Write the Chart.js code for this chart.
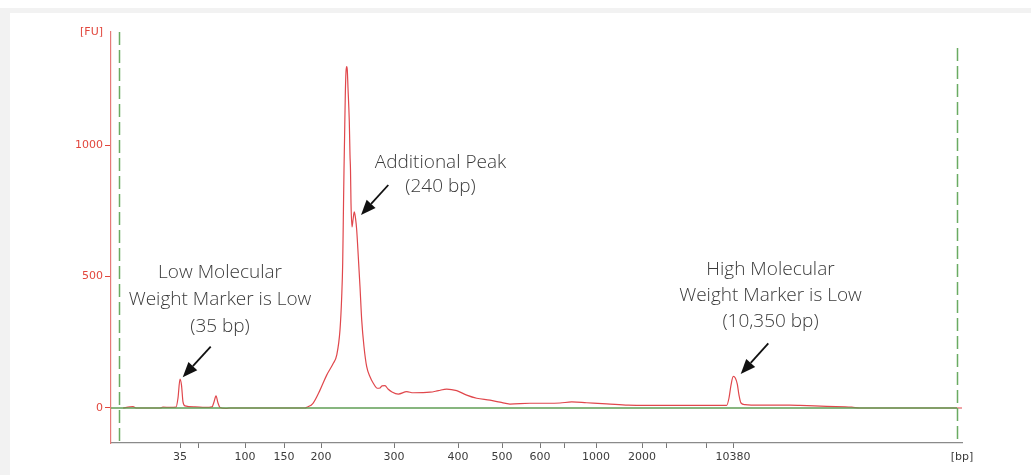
<!DOCTYPE html>
<html>
<head>
<meta charset="utf-8">
<script src="https://cdn.jsdelivr.net/npm/chart.js@4.4.0/dist/chart.umd.min.js"></script>
<style>
    html, body { margin: 0; padding: 0; background: #fff; }
    #frame { position: absolute; left: 0; top: 8px; width: 1031px; height: 467px; box-sizing: border-box;
             border-top: 5px solid #f2f2f2; border-left: 10px solid #f2f2f2; }
    #wrap { position: absolute; left: 0; top: 0; width: 1031px; height: 475px; }
</style>
</head>
<body>
<div id="frame"></div>
<div id="wrap"><canvas id="trace-chart"></canvas></div>
<script>
// migration time [s] and fluorescence [FU]
var times = [
    41.2, 41.9, 42.2, 42.5, 44.9, 45.2, 45.9, 46.5, 46.7, 46.9, 47.05, 47.2, 47.4, 48.4, 49.4,
    50.1, 50.3, 50.5, 50.7, 50.9, 51.5, 51.9, 59.4, 59.6, 60.2, 60.9, 61.57, 62.23, 62.57, 62.9,
    63.07, 63.17, 63.23, 63.3, 63.35, 63.43, 63.5, 63.57, 63.63, 63.7, 63.83, 63.9, 63.95, 64.0,
    64.1, 64.2, 64.33, 64.45, 64.57, 64.73, 64.9, 65.07, 65.3, 65.57, 65.9, 66.23, 66.63, 66.9,
    67.1, 67.4, 67.7, 68.1, 68.73, 69.57, 70.23, 71.9, 72.73, 73.57, 74.57, 75.57, 76.57, 77.9,
    78.9, 79.9, 81.9, 83.57, 84.9, 86.07, 87.57, 89.57, 91.73, 93.57, 96.9, 99.9, 101.57, 101.8,
    102.0, 102.23, 102.43, 102.63, 102.8, 103.0, 103.4, 104.9, 107.9, 108.9, 111.57, 114.07,
    114.9, 125.1
];
var fu = [
    0, 4, 5, 0, 0, 3, 2, 3, 38, 110, 87, 23, 8, 4, 2,
    4, 23, 46, 19, 2, -2, 0, 0, 3, 18, 68, 125, 170, 201, 297,
    423, 551, 715, 905, 1013, 1190, 1278, 1298, 1285, 1217, 1089, 962, 905, 779,
    689, 715, 746, 722, 677, 575, 461, 335, 233, 157, 119, 94, 75, 76,
    84, 85, 72, 61, 53, 62, 58, 60, 66, 72, 66, 49, 37, 30,
    22, 15, 18, 18, 19, 23, 20, 16, 11, 10, 10, 10, 10, 38,
    87, 120, 114, 91, 49, 19, 13, 11, 11, 10, 6, 3,
    0, 0
];

// ladder ticks: position in seconds and the size label shown under it
var xTickPos    = [46.9, 48.8, 53.4, 57.3, 61.0, 68.3, 74.7, 79.1, 82.9, 85.3, 88.5, 93.1, 95.5, 99.5, 102.2, 125.1];
var xTickLabels = ['35', '', '100', '150', '200', '300', '400', '500', '600', '', '1000', '2000', '', '', '10380', '[bp]'];
var yTickPos    = [0, 500, 1000, 1429.7];
var yTickLabels = ['0', '500', '1000', '[FU]'];

// lower / upper marker alignment lines
var markerLines = [{ t: 40.8, top: 1429.7 }, { t: 124.6, top: 1369 }];

// callouts: text lines (center, FU of each line) and arrow tail -> tip
var callouts = [
    { lines: ['Low Molecular', 'Weight Marker is Low', '(35 bp)'], t: 50.9, y: [513, 411, 308],
      from: [49.97, 233], to: [47.17, 117] },
    { lines: ['Additional Peak', '(240 bp)'], t: 72.95, y: [935, 840],
      from: [67.73, 848], to: [65.0, 734] },
    { lines: ['High Molecular', 'Weight Marker is Low', '(10,350 bp)'], t: 105.95, y: [525, 426, 327],
      from: [105.73, 246], to: [102.97, 129] }
];

var points = times.map(function (t, i) { return { x: t, y: fu[i] }; });

var overlay = {
    id: 'overlay',
    afterDatasetsDraw: function (chart) {
        var c = chart.ctx, xs = chart.scales.x, ys = chart.scales.y;
        var y0 = ys.getPixelForValue(0);
        c.save();
        // baseline
        c.strokeStyle = '#5f9e55';
        c.lineWidth = 1.5;
        c.beginPath();
        c.moveTo(chart.chartArea.left, y0);
        c.lineTo(xs.getPixelForValue(markerLines[1].t), y0);
        c.stroke();
        // dashed marker lines
        c.setLineDash([13, 5]);
        c.strokeStyle = '#6aab62';
        markerLines.forEach(function (m) {
            var px = Math.round(xs.getPixelForValue(m.t)) + 0.5;
            c.beginPath();
            c.moveTo(px, ys.getPixelForValue(m.top));
            c.lineTo(px, chart.chartArea.bottom);
            c.stroke();
        });
        c.setLineDash([]);
        // callouts
        c.font = '300 19px "Open Sans"';
        c.textAlign = 'center';
        c.textBaseline = 'middle';
        callouts.forEach(function (a) {
            c.fillStyle = '#3a3a3a';
            a.lines.forEach(function (s, i) {
                c.fillText(s, xs.getPixelForValue(a.t), ys.getPixelForValue(a.y[i]));
            });
            var x1 = xs.getPixelForValue(a.from[0]), y1 = ys.getPixelForValue(a.from[1]);
            var x2 = xs.getPixelForValue(a.to[0]),   y2 = ys.getPixelForValue(a.to[1]);
            var ang = Math.atan2(y2 - y1, x2 - x1), hl = 15, hw = 6;
            var bx = x2 - hl * Math.cos(ang), by = y2 - hl * Math.sin(ang);
            c.strokeStyle = '#111';
            c.lineWidth = 1.8;
            c.beginPath();
            c.moveTo(x1, y1);
            c.lineTo(bx, by);
            c.stroke();
            c.fillStyle = '#111';
            c.beginPath();
            c.moveTo(x2, y2);
            c.lineTo(bx + hw * Math.sin(ang), by - hw * Math.cos(ang));
            c.lineTo(bx - hw * Math.sin(ang), by + hw * Math.cos(ang));
            c.closePath();
            c.fill();
        });
        c.restore();
    }
};//overlay

var traceChart = new Chart(document.getElementById('trace-chart'), {
    type: 'line',
    data: {
        datasets: [{
            data: points,
            borderColor: '#e0474c',
            borderWidth: 1.2,
            pointRadius: 0,
            cubicInterpolationMode: 'monotone',
            fill: false
        }]
    },//data
    options: {
        responsive: true,
        maintainAspectRatio: false,
        animation: false,
        events: [],
        layout: { padding: { top: 32, right: 69, left: 0, bottom: 0 } },
        plugins: { legend: { display: false }, tooltip: { enabled: false } },
        scales: {
            x: {
                type: 'linear',
                min: 40,
                max: 125.1,
                afterBuildTicks: function (s) { s.ticks = xTickPos.map(function (v) { return { value: v }; }); },
                afterFit: function (s) { s.height = 32; },
                ticks: {
                    autoSkip: false,
                    maxRotation: 0,
                    padding: 3,
                    color: '#3c3c3c',
                    font: { family: 'DejaVu Sans', size: 11 },
                    callback: function (v, i) { return xTickLabels[i]; }
                },
                grid: {
                    drawOnChartArea: false,
                    tickLength: 5,
                    color: function (ctx) { return xTickLabels[ctx.index] === '[bp]' ? 'rgba(0,0,0,0)' : '#777'; }
                },
                border: { color: '#8a8a8a', width: 1.2 }
            },
            y: {
                min: -133.1,
                max: 1429.7,
                afterBuildTicks: function (s) { s.ticks = yTickPos.map(function (v) { return { value: v }; }); },
                afterFit: function (s) { s.width = 111; },
                ticks: {
                    padding: 2,
                    color: '#e2473d',
                    font: { family: 'DejaVu Sans', size: 11 },
                    callback: function (v, i) { return yTickLabels[i]; }
                },
                grid: {
                    drawOnChartArea: false,
                    tickLength: 6,
                    color: function (ctx) { return yTickLabels[ctx.index] === '[FU]' ? 'rgba(0,0,0,0)' : '#e2473d'; }
                },
                border: { color: '#e57a78', width: 1.2 }
            }
        }
    },//options
    plugins: [overlay]
});//new Chart
</script>
</body>
</html>
